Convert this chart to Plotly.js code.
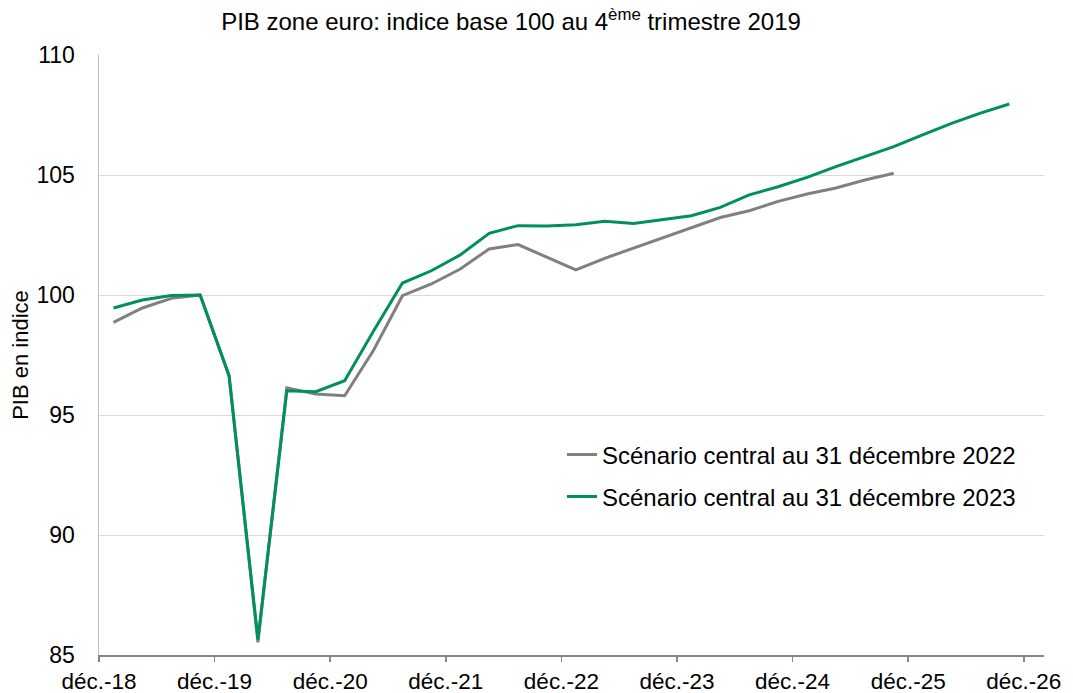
<!DOCTYPE html>
<html>
<head>
<meta charset="utf-8">
<script src="https://cdn.plot.ly/plotly-3.0.1.min.js"></script>
<style>html,body{margin:0;padding:0;background:#fff;}#chart{width:1073px;height:693px;}</style>
</head>
<body>
<div id="chart"></div>
<script>
// Quarter index: 0 = T1 2019 ... 31 = T4 2026
const quarters2022 = [0,1,2,3,4,5,6,7,8,9,10,11,12,13,14,15,16,17,18,19,20,21,22,23,24,25,26,27];
const scenario2022 = [98.86,99.46,99.86,100.0,96.64,85.53,96.13,95.87,95.8,97.7,99.97,100.46,101.08,101.92,102.1,101.57,101.05,101.53,101.96,102.4,102.82,103.23,103.51,103.9,104.21,104.46,104.79,105.07];
const quarters2023 = [0,1,2,3,4,5,6,7,8,9,10,11,12,13,14,15,16,17,18,19,20,21,22,23,24,25,26,27,28,29,30,31];
const scenario2023 = [99.46,99.79,99.98,100.0,96.64,85.65,96.01,95.97,96.43,98.5,100.5,101.01,101.67,102.57,102.89,102.87,102.93,103.07,102.98,103.14,103.3,103.65,104.17,104.51,104.9,105.35,105.76,106.18,106.67,107.15,107.58,107.96];
const tickPositions = [-0.5,3.5,7.5,11.5,15.5,19.5,23.5,27.5,31.5];
const tickLabels = ['déc.-18','déc.-19','déc.-20','déc.-21','déc.-22','déc.-23','déc.-24','déc.-25','déc.-26'];
const yTicks = [85,90,95,100,105,110];

const FONT = 'Liberation Sans, Arial, sans-serif';

const traces = [
  {x: quarters2022, y: scenario2022, type:'scatter', mode:'lines', name:'Scénario central au 31 décembre 2022',
   line:{color:'#808080', width:3}, legend:'legend'},
  {x: quarters2023, y: scenario2023, type:'scatter', mode:'lines', name:'Scénario central au 31 décembre 2023',
   line:{color:'#00915A', width:3}, legend:'legend2'}
];

const legendCommon = {font:{family:FONT, size:24, color:'#000'}, bgcolor:'rgba(0,0,0,0)', xanchor:'left', yanchor:'middle', itemwidth:30, borderwidth:0};

const layout = {
  width:1073, height:693,
  margin:{l:99, r:29, t:55, b:38},
  paper_bgcolor:'#fff', plot_bgcolor:'#fff',
  font:{family:FONT, size:23, color:'#000'},
  title:{text:'PIB zone euro: indice base 100 au 4<sup>ème</sup> trimestre 2019', font:{family:FONT, size:24, color:'#000'},
         x:511/1073, xref:'container', xanchor:'center', y:1-22/693, yref:'container', yanchor:'middle'},
  xaxis:{range:[-0.5,32.2], tickmode:'array', tickvals:tickPositions, ticktext:tickLabels,
         showgrid:false, zeroline:false, showline:true, linecolor:'#868686', linewidth:1.5,
         ticks:'outside', ticklen:5, tickcolor:'#868686', tickwidth:1.5,
         tickfont:{family:FONT, size:22.5, color:'#000'}},
  yaxis:{range:[85,110], tickmode:'array', tickvals:yTicks, showgrid:true, gridcolor:'#d9d9d9', gridwidth:1,
         zeroline:false, showline:true, linecolor:'#bfbfbf', linewidth:1.5, ticks:'', ticklabelstandoff:18,
         tickfont:{family:FONT, size:23, color:'#000'},
         title:{text:'PIB en indice', font:{family:FONT, size:22, color:'#000'}, standoff:2}},
  showlegend:true,
  legend:Object.assign({x:(562-99)/945, y:(655-455)/600}, legendCommon),
  legend2:Object.assign({x:(562-99)/945, y:(655-497)/600}, legendCommon)
};

Plotly.newPlot('chart', traces, layout, {displayModeBar:false, staticPlot:true});
</script>
</body>
</html>
